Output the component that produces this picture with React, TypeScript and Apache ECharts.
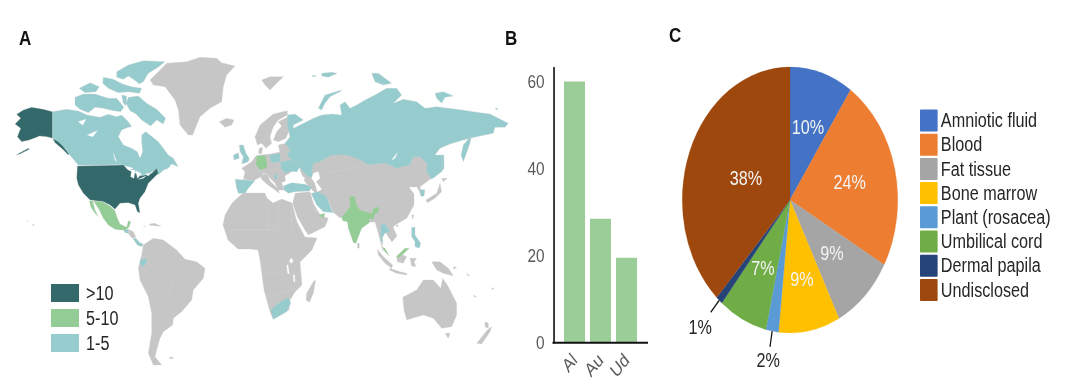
import React, { useEffect, useRef } from "react";
import * as echarts from "echarts";

const FONT = '"Liberation Sans", Arial, sans-serif';
const SQUEEZE = 0.81; // the reference figure is compressed horizontally
const X = (v: number) => v / SQUEEZE;

// Panel B
const barCategories = ["Al", "Au", "Ud"];
const barValues = [60, 28.5, 19.5];

// Panel C
const sliceNames = ["Amniotic fluid", "Blood", "Fat tissue", "Bone marrow", "Plant (rosacea)", "Umbilical cord", "Dermal papila", "Undisclosed"];
const sliceShares = [9.5, 23.6, 9.4, 9.2, 1.9, 7.3, 1.0, 38.1];
const sliceColors = ["#4472C4", "#ED7D31", "#A5A5A5", "#FFC000", "#5B9BD5", "#70AD47", "#264478", "#9E480E"];
const labelReach = [0.57, 0.57, 0.56, 0.61, 1.22, 0.57, 1.27, 0.44];

// Panel A: tier
const countriesHigh = ["United States", "Alaska"];
const countriesMid = ["Mexico", "Germany", "India", "Malaysia", "United Arab Emirates"];
const countriesLow = ["Canada", "Russia", "United Kingdom", "Spain", "Poland", "Ukraine", "Serbia", "Turkey", "Iran", "South Africa", "Thailand", "Philippines", "South Korea", "Ecuador", "Guatemala", "Panama"];
const tierValues = [15, 7, 3];
const tierLabels = [">10", "5-10", "1-5"];
const tierColors = ["#33696A", "#93CC95", "#97CCCE"];

// Hand-traced outlines: [originX, originY, scale] then reference-pixel coordinates
type Org = [number, number, number];
const Z1: Org = [0, 20, 3], Z2: Org = [0, 190, 3], Z3: Org = [250, 40, 3], Z4: Org = [250, 190, 3], Z7: Org = [210, 90, 3], Z8: Org = [60, 150, 3], Z9: Org = [340, 150, 3], PX: Org = [0, 0, 1];
const outlines: [string, [Org, number[]][]][] = [
  ["Greenland", [[Z1, [450,180,480,150,500,130,560,125,600,112,650,115,665,128,705,138,680,165,670,200,665,245,630,265,600,290,578,345,565,345,540,315,535,270,525,240,495,200,460,195]], [Z1, [658,305,680,295,702,300,695,315,675,322]]]],
  ["Central America", [[Z8, [205,238,220,245,228,262,215,264,205,250]]]],
  ["Caribbean", [[Z8, [268,222,285,220,300,228,285,227,270,226]], [Z8, [250,228,255,227,254,230]], [Z8, [295,226,302,226,300,229]]]],
  ["Hawaii", [[Z2, [80,92,84,92,83,95]], [Z2, [97,103,103,104,100,109]]]],
  ["South America", [[Z2, [430,165,460,145,490,150,530,180,555,208,590,215,615,235,610,265,580,300,575,330,545,365,520,385,518,405,490,425,480,445,470,480,465,500,485,525,460,525,445,490,455,430,455,370,445,320,420,270,415,235,425,195]], [Z2, [508,502,520,502,518,506,510,506]]]],
  ["Africa", [[PX, [243,193,265,193,267,198,273,203,282,199,292,203,297,222,305,237,317,238,312,250,300,262,302,285,295,292,290,300,289,310,273,319,270,312,264,290,260,260,258,250,250,249,238,249,228,240,223,225,225,215,232,203]], [Z4, [170,310,190,275,197,270,190,310,178,337,168,330]]]],
  ["Europe", [[Z7, [95,235,125,215,138,197,180,192,240,180,255,215,240,250,225,258,228,272,215,278,222,300,205,300,195,280,178,262,172,252,160,250,150,262,130,272,100,268,105,245]], [Z7, [150,255,172,252,180,272,205,298,208,310,195,300,170,282,155,268]], [Z7, [148,175,158,172,155,192,145,190]]]],
  ["Scandinavia", [[Z7, [135,140,150,105,190,72,232,62,232,75,205,90,190,110,180,140,185,160,168,175,155,160,142,165]], [Z7, [205,95,235,80,238,120,228,145,205,155,190,150,200,125,215,108]], [Z7, [205,165,235,158,240,185,210,188]], [Z3, [35,120,60,110,100,110,80,130,60,150,45,135]]]],
  ["Asia", [[PX, [300,170,320,150,430,150,432,178,425,183,420,187,422,197,417,187,409,187,414,194,414,205,407,218,397,224,393,227,397,236,392,242,387,235,383,225,381,240,383,252,378,232,375,222,370,222,360,215,340,218,333,212,328,200,318,195,312,190,305,182]], [Z9, [52,280,58,280,58,295,52,293]], [Z9, [215,195,222,195,218,208]], [Z9, [168,224,176,226,172,232]]]],
  ["Arabia", [[Z7, [248,340,255,310,300,305,310,340,330,375,355,385,345,410,295,435,285,420,262,380]]]],
  ["Japan", [[Z9, [258,150,290,130,300,100,305,125,285,145,262,158]], [Z9, [305,85,322,85,310,95]]]],
  ["Indonesia", [[Z9, [112,298,130,320,158,345,155,355,135,340,115,315]], [Z4, [420,235,450,245,470,250,470,255,440,250,418,240]], [Z9, [170,320,190,315,200,320,190,340,172,335]], [Z4, [480,205,500,205,492,215,498,230,485,228]], [Z4, [545,215,570,215,595,235,610,258,580,250,560,240]], [Z4, [610,230,620,232,612,238]], [Z4, [650,250,660,258,652,256]], [Z4, [670,315,680,320,674,322]], [Z4, [725,295,732,293,728,300]]]],
  ["Australia", [[Z4, [458,322,500,300,520,270,550,270,572,295,578,265,595,290,620,340,620,375,605,410,575,415,550,385,520,375,470,390,462,360]], [Z4, [585,430,600,430,595,445]]]],
  ["New Zealand", [[Z4, [680,460,700,435,712,420,725,410,720,425,695,462]], [Z4, [705,395,715,400,715,415,705,410]]]],
  ["Borders", [[Z2, [430,210,520,270]], [Z2, [520,270,500,340]], [Z2, [455,370,500,345]], [Z2, [470,430,520,385]], [Z7, [95,340,180,420]], [Z7, [170,335,175,420]], [Z7, [205,330,205,420]], [Z7, [245,345,245,430]], [Z7, [60,420,205,420]], [Z4, [40,250,150,250]], [Z4, [60,320,150,290]], [Z3, [230,400,360,375]], [Z3, [360,375,520,365]], [Z3, [300,430,360,375]], [Z7, [370,310,340,295]], [Z7, [285,340,330,370]], [Z7, [120,240,170,250]], [Z7, [190,235,240,250]]]],
  ["Alaska", [[Z1, [158,275,130,268,95,262,70,270,50,283,62,295,45,312,62,325,52,350,65,365,88,360,110,352,118,348,140,350,158,355]], [Z1, [158,355,175,362,195,380,208,400,205,405,188,388,165,368]], [Z1, [48,405,60,398,85,385,88,388,60,402]]]],
  ["Canada", [[Z1, [158,275,200,268,235,273,262,285,300,292,325,283,350,290,365,285,385,305,395,320,385,322,365,330,355,350,370,375,395,385,412,395,420,415,428,395,425,365,425,345,437,335,450,345,475,365,490,385,505,405,520,415,535,440,515,432,505,445,490,450,475,465,470,447,445,462,420,478,415,462,395,450,378,440,362,434,235,436,220,418,205,400,190,380,175,365,158,355]], [Z1, [385,232,415,228,440,250,470,268,497,295,490,312,470,300,452,318,425,300,408,282,390,272,378,250]], [Z1, [225,232,250,222,285,222,325,235,350,235,372,262,362,275,340,272,310,265,285,262,265,278,240,268,225,255]], [Z1, [350,155,385,135,430,122,495,125,472,143,445,160,430,185,418,192,400,178,385,168,370,178,350,172]], [Z1, [310,172,340,178,368,192,395,200,425,205,418,220,385,215,355,218,325,205,308,190]], [Z1, [238,205,270,188,298,200,288,215,255,218]], [Z1, [365,225,380,228,378,258,370,250]]]],
  ["United States", [[Z8, [52,48,190,45,205,60,222,68,245,78,275,70,290,55,295,70,280,85,265,100,255,125,240,145,235,160,240,188,232,185,225,165,205,158,180,160,165,178,150,165,130,155,90,150,70,130,55,105,50,85]]]],
  ["Mexico", [[Z8, [100,153,128,155,150,168,165,182,172,205,180,222,200,232,205,212,212,215,208,230,198,240,182,240,165,238,145,225,130,205,118,180,105,160]], [Z8, [88,152,98,153,105,180,115,200,105,190,92,170]]]],
  ["Guatemala", [[Z8, [190,240,205,238,205,250,195,248]]]],
  ["Panama", [[Z8, [218,265,228,265,240,278,250,282,245,290,232,285]]]],
  ["Ecuador", [[Z2, [420,210,440,205,440,220,428,230,420,222]]]],
  ["South Africa", [[Z4, [62,360,85,340,115,322,122,340,110,365,70,388]]]],
  ["Russia", [[Z3, [112,225,135,222,160,240,130,255,130,265,170,245,190,235,215,225,245,222,275,225,270,195,285,185,300,205,320,195,345,180,375,165,410,145,440,145,455,165,430,190,460,178,500,185,525,205,560,200,620,208,670,215,720,222,775,250,765,262,735,262,730,280,680,290,640,300,600,312,570,325,555,345,580,345,575,395,545,418,530,395,530,370,510,350,490,350,480,375,440,385,405,370,355,375,330,360,290,345,245,345,210,365,190,370,185,395,195,415,175,410,150,385,125,385,110,375,125,360,110,345,120,330,105,310,120,290,112,260]], [Z3, [205,205,225,165,275,150,270,155,240,170,225,190,215,210]], [Z3, [185,105,200,108,190,110]], [Z3, [215,100,245,97,262,100,235,112,215,108]], [Z3, [365,100,385,100,425,130,400,135,375,125]], [Z3, [555,160,580,155,610,168,585,172,575,190,560,175]], [Z3, [575,345,582,345,582,385,575,395]], [Z3, [665,285,660,310,640,365,633,345,640,315]], [Z3, [735,205,745,205,740,210]]]],
  ["Germany", [[Z7, [140,198,165,195,172,220,170,235,150,240,138,225]]]],
  ["United Kingdom", [[Z7, [88,165,100,165,108,190,118,205,115,215,95,222,100,200,90,185]], [Z7, [70,195,85,188,88,205,72,210]]]],
  ["Spain", [[Z7, [75,268,135,272,115,295,105,310,85,310,80,295]]]],
  ["Poland", [[Z7, [178,195,210,190,212,215,185,220]]]],
  ["Ukraine", [[Z7, [212,215,240,210,270,225,262,245,240,245,225,250,212,235]]]],
  ["Serbia", [[Z7, [192,252,202,255,200,270,192,265]]]],
  ["Turkey", [[Z7, [220,288,245,278,285,283,305,292,298,303,255,305,235,310,222,300]]]],
  ["Iran", [[Z7, [303,310,325,305,350,320,365,360,370,368,340,365,320,345]]]],
  ["United Arab Emirates", [[Z7, [325,375,345,370,340,385]]]],
  ["India", [[Z9, [28,140,45,138,50,165,60,180,95,190,100,175,118,170,115,188,105,192,100,210,90,205,88,218,65,235,48,280,40,278,25,235,22,215,8,212,5,200,18,185,30,170]]]],
  ["South Korea", [[Z9, [240,118,255,120,252,138,242,138]]]],
  ["Thailand", [[Z9, [122,225,135,220,150,245,135,250,128,262,128,285,122,270]]]],
  ["Malaysia", [[Z9, [125,290,135,295,148,318,135,305]], [Z9, [168,320,195,295,208,295,190,312,178,322]]]],
  ["Philippines", [[Z9, [215,232,225,232,225,255,232,265,242,280,238,295,225,290,225,275,215,260]]]],
  ["Water", [[Z7, [225,258,250,245,265,250,285,265,275,275,245,272,228,272]], [Z7, [310,250,325,245,330,265,318,275,335,298,322,305,315,280,305,265]], [Z8, [195,48,220,55,205,60]], [Z8, [215,60,225,60,222,85,212,80]], [Z8, [228,62,245,72,232,85]], [Z8, [235,88,258,78,250,85]], [Z8, [255,72,272,70,265,78]], [Z1, [235,305,258,298,248,315]], [Z1, [262,345,292,332,278,350]], [Z1, [340,400,350,425,345,420]], [Z3, [425,360,442,338,435,355]], [Z4, [122,205,130,210,125,220,118,215]], [Z4, [110,225,114,225,118,252,113,250]], [Z4, [130,255,134,255,135,275,131,275]]]],
];

function ring([ox, oy, s]: Org, flat: number[]) {
  const pts: number[][] = [];
  for (let i = 0; i < flat.length; i += 2) pts.push([ox + flat[i] / s, -(oy + flat[i + 1] / s)]);
  pts.push(pts[0]);
  return [pts];
}

const worldGeo: any = {
  type: "FeatureCollection",
  features: outlines.map(([name, parts]) => ({
    type: "Feature",
    properties: { name },
    geometry: { type: "MultiPolygon", coordinates: parts.map(([o, f]) => ring(o, f)) },
  })),
};

const PIE = { cx: X(790), cy: 200, r: 133 };
const total = sliceShares.reduce((a, b) => a + b, 0);
function sliceAt(i: number, k: number) {
  const before = sliceShares.slice(0, i).reduce((a, b) => a + b, 0);
  const mid = ((before + sliceShares[i] / 2) / total) * Math.PI * 2;
  return [PIE.cx + Math.sin(mid) * PIE.r * k, PIE.cy - Math.cos(mid) * PIE.r * k];
}
const leaderLines = labelReach.flatMap((reach, i) => {
  if (reach <= 1) return [];
  const [x1, y1] = sliceAt(i, 1);
  const [x2, y2] = sliceAt(i, 1.12);
  return [{ type: "line", shape: { x1, y1, x2, y2 }, style: { stroke: "#111", lineWidth: 1.5 }, z: 10 }];
});

const panelLetter = (text: string, left: number, top: number) => ({
  text,
  left: X(left),
  top,
  padding: 0,
  textStyle: { fontFamily: FONT, fontSize: 21, fontWeight: "bold", color: "#111" },
});

export default function App() {
  const ref = useRef<HTMLDivElement>(null);
  useEffect(() => {
    document.body.style.margin = "0";
    echarts.registerMap("tracedWorld", worldGeo);
    const chart = echarts.init(ref.current!, undefined, { renderer: "svg" });
    const tierData = [countriesHigh, countriesMid, countriesLow].flatMap((names, t) => names.map((name) => ({ name, value: tierValues[t] })));
    chart.setOption({
      animation: false,
      title: [panelLetter("A", 19, 27), panelLetter("B", 505, 27), panelLetter("C", 669, 24)],
      visualMap: {
        type: "piecewise",
        seriesIndex: 0,
        left: X(51),
        top: 283,
        padding: 0,
        orient: "vertical",
        itemWidth: X(28),
        itemHeight: 18,
        itemGap: 5,
        itemSymbol: "rect",
        textGap: X(7),
        selectedMode: false,
        textStyle: { fontFamily: FONT, fontSize: 20, color: "#262626" },
        pieces: [
          { min: 10, label: tierLabels[0], color: tierColors[0] },
          { min: 5, max: 10, label: tierLabels[1], color: tierColors[1] },
          { min: 1, max: 5, label: tierLabels[2], color: tierColors[2] },
        ],
      },
      legend: {
        data: sliceNames,
        orient: "vertical",
        left: X(920),
        top: 109.5,
        padding: 0,
        icon: "rect",
        itemWidth: X(16),
        itemHeight: 20,
        itemGap: 2.2,
        selectedMode: false,
        textStyle: { fontFamily: FONT, fontSize: 20, color: "#262626" },
      },
      grid: { left: X(561.5), top: 67.7, width: X(78), height: 275 },
      xAxis: {
        type: "category",
        data: barCategories,
        axisLine: { show: false },
        axisTick: { show: false },
        axisLabel: { rotate: 45, interval: 0, margin: 14, color: "#595959", fontFamily: FONT, fontSize: 19 },
      },
      yAxis: {
        type: "value",
        min: 0,
        max: 63.2,
        interval: 20,
        offset: X(8),
        splitLine: { show: false },
        axisTick: { show: false },
        axisLine: { show: true, lineStyle: { color: "#111", width: 2 } },
        axisLabel: {
          margin: X(9),
          color: "#595959",
          fontFamily: FONT,
          fontSize: 19,
          formatter: (v: number) => (v % 20 === 0 ? String(v) : ""),
        },
      },
      graphic: [
        { type: "line", shape: { x1: X(552.5), y1: 342.7, x2: X(648), y2: 342.7 }, style: { stroke: "#111", lineWidth: 2 }, z: 10 },
        ...leaderLines,
      ],
      series: [
        {
          type: "map",
          map: "tracedWorld",
          aspectScale: 1,
          boundingCoords: [[0, 0], [1080, -388]],
          left: 0,
          top: 0,
          width: X(1080),
          height: 388,
          roam: false,
          silent: true,
          showLegendSymbol: false,
          label: { show: false },
          emphasis: { disabled: true },
          itemStyle: { areaColor: "#C6C6C6", borderColor: "#CFCFCF", borderWidth: 0.3 },
          data: [
            ...tierData,
            { name: "Water", itemStyle: { areaColor: "#FFFFFF", borderColor: "#FFFFFF" } },
            { name: "Borders", itemStyle: { areaColor: "#CFCFCF", borderColor: "#CFCFCF", borderWidth: 0.4 } },
          ],
        },
        { type: "bar", data: barValues, barWidth: X(21), itemStyle: { color: "#9BCD98" }, silent: true },
        {
          type: "pie",
          center: [PIE.cx, PIE.cy],
          radius: PIE.r,
          startAngle: 90,
          silent: true,
          labelLine: { show: false },
          label: {
            position: "inside",
            fontFamily: FONT,
            fontSize: 20,
            color: "#F4F4F4",
            formatter: (p: any) => `${Math.round(p.value)}%`,
          },
          labelLayout: (p: any) => {
            const [x, y] = sliceAt(p.dataIndex, labelReach[p.dataIndex]);
            return { x, y, align: "center", verticalAlign: "middle" };
          },
          data: sliceNames.map((name, i) => ({
            name,
            value: sliceShares[i],
            itemStyle: { color: sliceColors[i], borderColor: sliceColors[i], borderWidth: 0.3 },
            label: labelReach[i] > 1 ? { color: "#262626" } : undefined,
          })),
        },
      ],
    });
    return () => chart.dispose();
  }, []);
  return (
    <div style={{ position: "absolute", left: 0, top: 0, width: 1080, height: 388, overflow: "hidden" }}>
      <div
        ref={ref}
        style={{ width: X(1080), height: 388, transform: `scaleX(${SQUEEZE})`, transformOrigin: "0 0", filter: "blur(0.45px)" }}
      />
    </div>
  );
}
